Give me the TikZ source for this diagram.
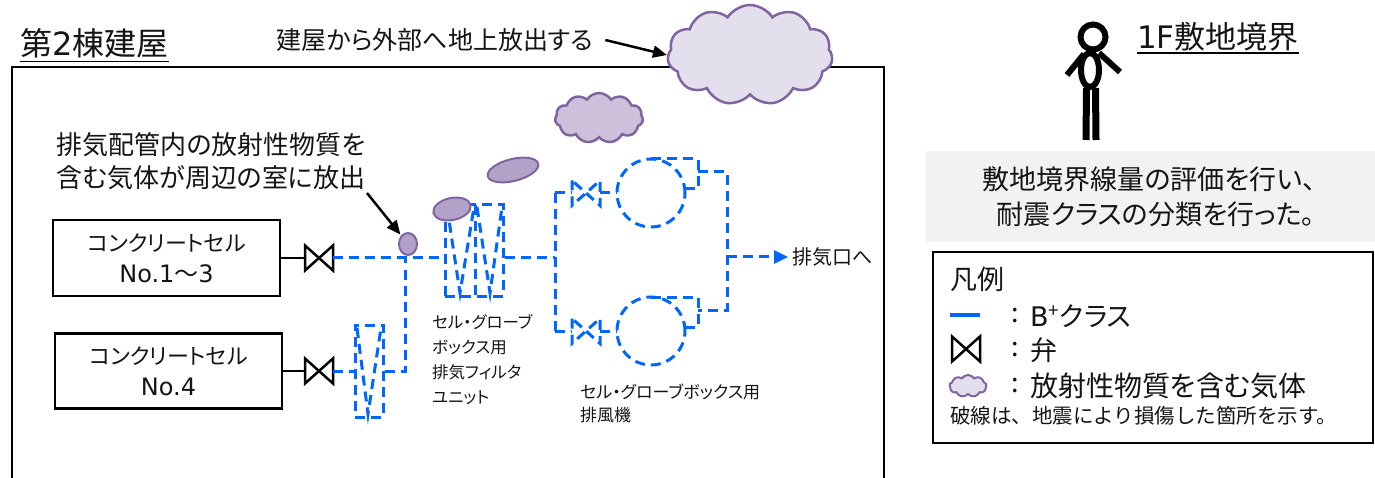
\documentclass[tikz,border=0pt]{standalone}
\usepackage{fontspec}
\setmainfont{Noto Sans CJK JP}[RawFeature=+palt]
\newfontfamily\fulljp{Noto Sans CJK JP}
\newfontfamily\lat{DejaVu Sans}
\usetikzlibrary{shapes.symbols,shapes.geometric,arrows.meta,calc}
\definecolor{pipeblue}{RGB}{0,102,255}
\definecolor{gasedge}{RGB}{128,100,162}
\definecolor{gasfill}{RGB}{179,162,199}
\definecolor{cloudlight}{RGB}{228,223,236}
\definecolor{cloudmid}{RGB}{204,192,218}
\definecolor{panelgray}{RGB}{242,242,242}
\definecolor{ink}{RGB}{20,20,20}
\tikzset{
  txt/.style={inner sep=0pt, text=ink},
  pipe/.style={draw=pipeblue, line width=3pt, dash pattern=on 10pt off 6pt},
  wall/.style={draw=black, line width=2.5pt},
  blackline/.style={draw=black, line width=2.5pt},
  callout/.style={draw=black, line width=2.5pt, -{Triangle[length=14pt,width=12pt]}},
  cellbox/.style={draw=black, line width=2.5pt, minimum width=227pt, minimum height=76pt,
    inner sep=0pt, align=center, text=ink, font=\fontsize{22}{31}\selectfont},
  gasblob/.style={ellipse, draw=gasedge, fill=gasfill, line width=2pt, inner sep=0pt},
  gascloud/.style={cloud, cloud puffs=11, cloud puff arc=115, cloud ignores aspect,
    draw=gasedge, line width=2.5pt, inner sep=0pt},
  figure/.style={draw=black, line width=6pt},
  % bow-tie valve symbol, drawn with whatever line style is in force
  valve/.pic={
    \draw (-14,-12.5) -- (-14,12.5) -- (14,-12.5) -- (14,12.5) -- cycle;
    \coordinate (-in) at (-14,0);
    \coordinate (-out) at (14,0);
  },
  % exhaust fan: casing circle with a tangential outlet at the top
  fan/.pic={
    \draw (0,0) circle[radius=34pt];
    \draw (0,-34) -- (47,-34) -- (47,-4) -- (34,-4);
    \coordinate (-in) at (-34,0);
    \coordinate (-out) at (47,-21);
  },
}
\begin{document}
\begin{tikzpicture}[x=1pt,y=-1pt]
\useasboundingbox (0,0) rectangle (1375,478);

% ---------- building outline ----------
\node[txt, anchor=base west, font=\fontsize{32}{36}\selectfont] (bldg) at (20,56) {第{\lat 2}棟建屋};
\draw[line width=1.8pt] ([yshift=-5.5pt]bldg.base west) -- ([yshift=-5.5pt]bldg.base east);
\coordinate (wallSW) at (12,478);
\coordinate (wallNW) at (12,67);
\coordinate (wallNE) at (884,67);
\coordinate (wallSE) at (884,478);
\draw[wall] (wallSW) -- (wallNW) -- (wallNE) -- (wallSE);

% ---------- release to the outside ----------
\node[gascloud, fill=cloudlight, minimum width=165pt, minimum height=100pt] (bigcloud) at (750,55) {};
\node[txt, font=\fontsize{25}{30}\selectfont] (reltxt) at (435,40) {建屋から外部へ地上放出する};
\draw[callout] ([xshift=12pt]reltxt.east) -- (bigcloud.west);
\node[gascloud, fill=cloudmid, minimum width=88pt, minimum height=50pt] (midcloud) at (599,118) {};

% ---------- concrete cells and valves ----------
\node[cellbox] (cellA) at (166.5,258) {コンクリートセル\\{\lat\fontsize{24}{31}\selectfont No.1}{\fontsize{24}{31}\selectfont ～}{\lat\fontsize{24}{31}\selectfont 3}};
\node[cellbox, minimum height=75pt] (cellB) at (168.5,371) {コンクリートセル\\{\lat\fontsize{24}{31}\selectfont No.4}};
\pic[blackline] (vA) at (319,258) {valve};
\pic[blackline] (vB) at (319,371) {valve};
\draw[blackline] (cellA.east) -- (vA-in);
\draw[blackline] (cellB.east) -- (vB-in);

% ---------- exhaust filter units ----------
\node[pipe, rectangle, minimum width=58pt, minimum height=91pt, inner sep=0pt] (filtA) at (474,250.5) {};
\coordinate (filtAmid) at (475,205);
\draw[pipe] (filtAmid) -- (475,296);
\draw[pipe] (447,207) -- (460,293) -- (474,207);
\draw[pipe] (477,207) -- (490,293) -- (502,207);
\node[pipe, rectangle, minimum width=28pt, minimum height=92pt, inner sep=0pt] (filtB) at (369,371) {};
\draw[pipe] (357,328) -- (368,414) -- (381,328);

% ---------- ducting ----------
\coordinate (jA) at (405,258);
\coordinate (jB) at (405,371);
\coordinate (split) at (555,258);
\coordinate (brTop) at (555,193);
\coordinate (brBot) at (555,331);
\draw[pipe] (vA-out) -- (jA) -- (filtA.west |- jA);
\draw[pipe] (vB-out) -- (filtB.west);
\draw[pipe] (filtB.east) -- (jB) -- (jA);
\draw[pipe] (filtA.east |- jA) -- (split);
\draw[pipe] (brTop) -- (brBot);

% ---------- exhaust fans ----------
\pic[pipe] (vC) at (586,193) {valve};
\pic[pipe] (vD) at (586,331) {valve};
\pic[pipe] (fanC) at (651,193) {fan};
\pic[pipe] (fanD) at (651,331) {fan};
\draw[pipe] (brTop) -- (vC-in);
\draw[pipe] (brBot) -- (vD-in);
\draw[pipe] (vC-out) -- (fanC-in);
\draw[pipe] (vD-out) -- (fanD-in);
\coordinate (mergeTop) at (727,172);
\coordinate (mergeBot) at (727,310);
\coordinate (merge) at (727,257);
\draw[pipe] (fanC-out) -- (mergeTop) -- (mergeBot) -- (fanD-out);
\node[txt, anchor=west, font=\fontsize{20}{24}\selectfont] (stack) at (792,257) {排気口へ};
\draw[pipe, -{Triangle[length=14pt,width=13pt]}] (merge) -- ([xshift=-4pt]stack.west);

% ---------- leaked gas ----------
\node[gasblob, minimum width=18pt, minimum height=22pt] (leak) at (408,244) {};
\node[gasblob, minimum width=38pt, minimum height=22pt, rotate=12] (puffA) at (452,209) {};
\node[gasblob, minimum width=52pt, minimum height=22pt, rotate=14] (puffB) at (513,170) {};
\node[txt, align=center, font=\fontsize{26}{33}\selectfont] (leaktxt) at (211,161)
  {排気配管内の放射性物質を\\含む気体が周辺の室に放出};
\coordinate (leakfrom) at (367,193);
\draw[callout, shorten >=1pt] (leakfrom) -- (leak);

% ---------- equipment labels ----------
\node[txt, anchor=west, align=left, font=\fontsize{16.5}{25}\selectfont] (filtlbl) at (432,359.5)
  {セル・グローブ\\ボックス用\\排気フィルタ\\ユニット};
\node[txt, anchor=west, align=left, font=\fontsize{17}{23}\selectfont] (fanlbl) at (580,403)
  {セル・グローブボックス用\\排風機};

% ---------- site boundary ----------
\draw[figure] (1093,37) circle[radius=12.5pt];
\draw[figure] (1090,70) ellipse[x radius=9pt, y radius=17pt];
\draw[figure] (1084,54) -- (1067,75);
\draw[figure] (1099,53) -- (1120,72);
\draw[figure, line width=7pt] (1086.5,88) -- (1086,140);
\draw[figure, line width=7pt] (1095.5,88) -- (1096,140);
\node[txt, anchor=base west, font=\fontsize{31}{36}\selectfont] (site) at (1137,49) {{\lat 1F}敷地境界};
\draw[line width=1.8pt] ([yshift=-4pt]site.base west) -- ([yshift=-4pt]site.base east);

\node[fill=panelgray, anchor=north west, minimum width=449pt, minimum height=91pt, inner sep=0pt] (panel) at (926,151) {};
\node[txt, align=center, font=\fontsize{27}{35}\selectfont] (paneltxt) at (1156,197)
  {敷地境界線量の評価を行い{\fulljp 、}\\耐震クラスの分類を行った。};

% ---------- legend ----------
\node[draw=black, line width=2pt, anchor=north west, minimum width=440pt, minimum height=191pt, inner sep=0pt] (legend) at (932,251) {};
\node[txt, anchor=west, font=\fontsize{27}{30}\selectfont] (lgtitle) at (950,279) {凡例};
\coordinate (lgLineA) at (950,315);
\coordinate (lgLineB) at (980,315);
\draw[draw=pipeblue, line width=3.5pt] (lgLineA) -- (lgLineB);
\pic[blackline] (lgValve) at (966,349) {valve};
\node[gascloud, fill=cloudlight, line width=2pt, cloud puffs=9, minimum width=37pt, minimum height=22pt] (lgCloud) at (968,386) {};
\node[txt, font=\fontsize{27}{30}\selectfont] (lgColA) at (1015,316) {:};
\node[txt, font=\fontsize{27}{30}\selectfont] (lgColB) at (1015,350) {:};
\node[txt, font=\fontsize{27}{30}\selectfont] (lgColC) at (1015,386) {:};
\node[txt, anchor=west, font=\fontsize{27}{30}\selectfont] (lgA) at (1030,316) {{\lat B}\textsuperscript{+}クラス};
\node[txt, anchor=west, font=\fontsize{27}{30}\selectfont] (lgB) at (1030,350) {弁};
\node[txt, anchor=west, font=\fontsize{28}{30}\selectfont] (lgC) at (1030,386) {放射性物質を含む気体};
\node[txt, anchor=west, font=\fulljp\fontsize{20.5}{24}\selectfont] (lgnote) at (950,416) {破線は、地震により損傷した箇所を示す。};
\end{tikzpicture}
\end{document}
